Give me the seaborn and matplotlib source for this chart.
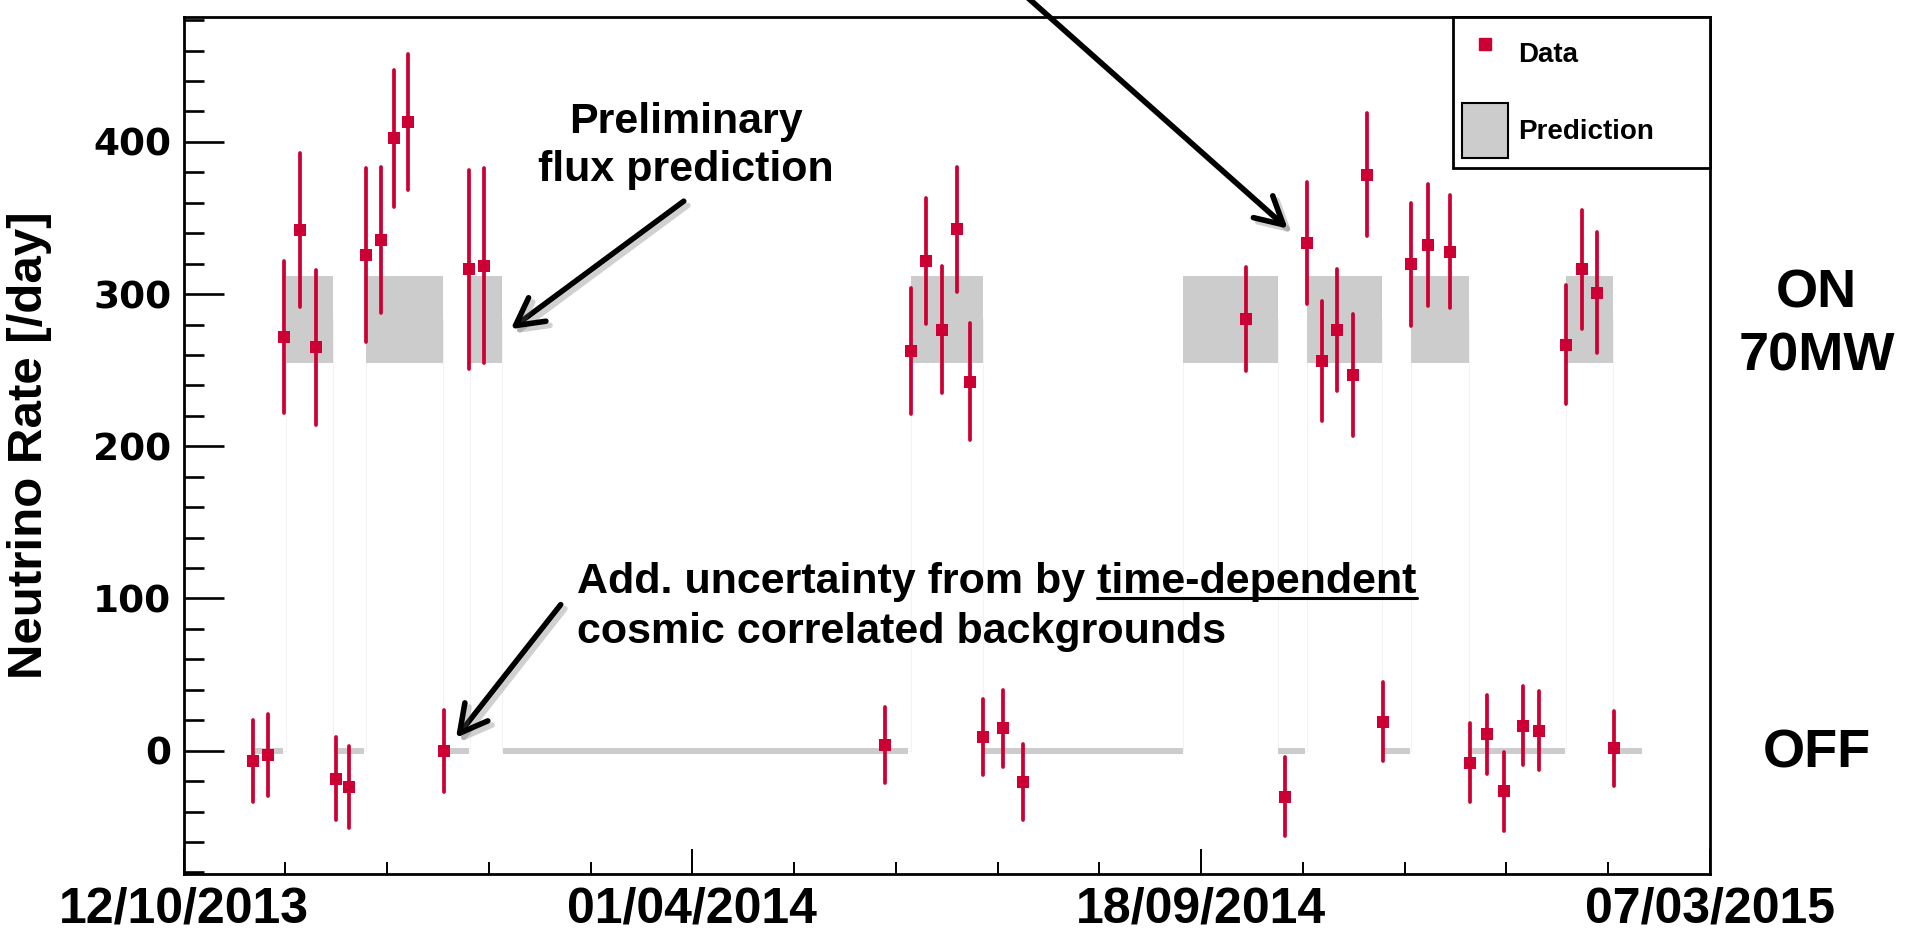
import matplotlib
matplotlib.use("Agg")
import matplotlib.pyplot as plt
import matplotlib.patheffects as pe
from matplotlib.lines import Line2D
from matplotlib.patches import Patch
from matplotlib.ticker import MultipleLocator
import numpy as np
import pandas as pd
import seaborn as sns

# Time axis: days elapsed since 12/10/2013
date_ticks = [0, 170, 340, 510]
date_labels = ["12/10/2013", "01/04/2014", "18/09/2014", "07/03/2015"]

# Reactor ON periods: measured neutrino rate and uncertainty [/day]
on_day = [33.4, 38.9, 44.1, 60.9, 66.0, 70.4, 75.0, 95.3, 100.4,
          242.9, 248.2, 253.5, 258.5, 262.8,
          355.1, 375.2, 380.3, 385.4, 390.6, 395.5,
          410.2, 415.8, 423.3, 461.9, 467.1, 472.3]
on_rate = [271.7, 342.3, 265.1, 325.5, 335.5, 402.4, 413.0, 316.3, 318.5,
           262.5, 321.8, 276.7, 342.5, 242.3,
           283.7, 333.3, 256.2, 276.5, 247.0, 378.4,
           319.6, 332.2, 327.9, 266.7, 316.3, 301.0]
on_err = [50.0, 50.5, 51.0, 57.0, 48.0, 45.0, 44.5, 65.5, 64.0,
          41.5, 41.5, 41.5, 41.0, 38.5,
          34.0, 40.0, 39.5, 40.0, 40.0, 40.5,
          40.5, 40.0, 37.0, 39.0, 39.0, 40.0]

# Reactor OFF periods
off_day = [23.3, 28.3, 50.8, 55.4, 87.1, 234.4, 267.0, 273.8, 280.6,
           368.1, 400.8, 429.7, 435.6, 441.2, 447.4, 453.0, 477.9]
off_rate = [-6.8, -2.8, -18.3, -23.6, -0.4, 3.7, 9.2, 14.6, -20.7,
            -30.1, 19.0, -7.9, 10.9, -26.6, 16.4, 13.1, 1.5]
off_err = [27.0, 27.0, 27.0, 27.0, 27.0, 25.0, 25.0, 25.0, 25.0,
           26.0, 26.0, 26.0, 26.0, 26.0, 26.0, 26.0, 24.5]

# Predicted rate for each running period
pred_start = [23.9, 34.1, 51.6, 60.9, 89.0, 95.7, 106.7, 243.2, 267.2,
              333.9, 365.5, 375.3, 400.8, 410.2, 429.7, 461.9, 477.9]
pred_end = [33.2, 49.8, 60.3, 86.6, 95.3, 106.3, 242.0, 267.2, 333.9,
            365.5, 374.6, 400.5, 409.9, 429.6, 461.7, 477.7, 487.2]
pred_state = ["OFF", "ON", "OFF", "ON", "OFF", "ON", "OFF", "ON", "OFF",
              "ON", "OFF", "ON", "OFF", "ON", "OFF", "ON", "OFF"]
pred_rate = {"ON": 283.4, "OFF": 0.0}
pred_unc = {"ON": 28.6, "OFF": 2.0}

RED = "#cc0033"
GREY = "#cccccc"

sns.set_theme(style="ticks")
plt.rcParams["font.family"] = ["Liberation Sans", "DejaVu Sans"]
plt.rcParams["font.weight"] = "bold"
plt.rcParams["axes.labelweight"] = "bold"
plt.rcParams["text.color"] = "black"
plt.rcParams["axes.labelcolor"] = "black"
plt.rcParams["xtick.color"] = "black"
plt.rcParams["ytick.color"] = "black"

fig = plt.figure(figsize=(19.11, 9.30), dpi=100, facecolor="white")
ax = fig.add_axes([0.0961, 0.0602, 0.7987, 0.9215])
ax.set_facecolor("white")

pred = pd.DataFrame({"start": pred_start, "end": pred_end, "state": pred_state})
pred["rate"] = pred["state"].map(pred_rate)
pred["unc"] = pred["state"].map(pred_unc)

# prediction bands
ax.bar(pred["start"], 2 * pred["unc"], width=pred["end"] - pred["start"],
       bottom=pred["rate"] - pred["unc"], align="edge", color=GREY,
       linewidth=0, zorder=1)

# faint histogram outline of the prediction
sx, sy = [], []
for s, e, r in zip(pred["start"], pred["end"], pred["rate"]):
    sx += [s, s, e, e]
    sy += [0, r, r, 0]
ax.plot(sx, sy, color="#f3f3f3", lw=0.8, zorder=0.5)

data = pd.concat([
    pd.DataFrame({"day": on_day, "rate": on_rate, "err": on_err, "period": "ON"}),
    pd.DataFrame({"day": off_day, "rate": off_rate, "err": off_err, "period": "OFF"}),
], ignore_index=True)

eb = ax.errorbar(data["day"], data["rate"], yerr=data["err"], fmt="none",
                 ecolor=RED, elinewidth=2.7, capsize=0, zorder=3)
for lc in eb[2]:
    lc.set_capstyle("round")
sns.scatterplot(data=data, x="day", y="rate", marker="s", s=70, color=RED,
                linewidth=0, zorder=4, ax=ax, legend=False)

ax.set_xlim(0, 510)
ax.set_ylim(-81, 482)
ax.set_xticks(date_ticks, labels=date_labels)
ax.xaxis.set_minor_locator(MultipleLocator(34))
ax.yaxis.set_major_locator(MultipleLocator(100))
ax.yaxis.set_minor_locator(MultipleLocator(20))

ax.tick_params(axis="y", which="major", direction="in", length=29, width=1.9,
               pad=9, labelsize=27, colors="black", right=False)
ax.tick_params(axis="y", which="minor", direction="in", length=14.5, width=1.9,
               right=False)
ax.tick_params(axis="x", which="major", direction="in", length=18, width=1.4,
               pad=9, labelsize=36, colors="black", top=False)
ax.tick_params(axis="x", which="minor", direction="in", length=8.6, width=1.4,
               top=False)
for lab in ax.get_xticklabels():
    lab.set_fontweight("bold")
for lab in ax.get_yticklabels():
    lab.set_fontweight("bold")
    lab.set_family(["DejaVu Sans"])

for side in ["left", "right", "top", "bottom"]:
    ax.spines[side].set_visible(True)
    ax.spines[side].set_color("black")
    ax.spines[side].set_linewidth(2)

ax.set_xlabel("")
ax.set_ylabel("Neutrino Rate [/day]", fontsize=35.5, fontweight="bold", va="center")
ax.yaxis.set_label_coords(-0.101, 0.5)

# legend
handles = [
    Line2D([], [], marker="s", color=RED, linestyle="none", markersize=8.6, label="Data"),
    Patch(facecolor=GREY, edgecolor="black", linewidth=1.5, label="Prediction"),
]
leg = ax.legend(handles=handles, loc="upper right",
                bbox_to_anchor=(0.8316, 0.0, 0.1684, 1.0), mode="expand",
                borderaxespad=0, fontsize=20, handlelength=1.65, handleheight=2.67,
                handletextpad=0.36, borderpad=0.33, labelspacing=0.8,
                fancybox=False, framealpha=1, edgecolor="black")
leg.get_frame().set_linewidth(2)
leg.set_zorder(10)

# annotations
shadow = [pe.SimpleLineShadow(offset=(3, -3), shadow_color="0.4", alpha=0.3), pe.Normal()]
arrow_kw = dict(arrowstyle="->,head_length=0.65,head_width=0.35", color="black",
                lw=4, shrinkA=0, shrinkB=0, mutation_scale=30)

a1 = ax.annotate("", xy=(109.3, 277.0), xytext=(167.1, 361.0), arrowprops=arrow_kw)
a2 = ax.annotate("", xy=(91.0, 8.5), xytext=(126.0, 96.0), arrowprops=arrow_kw)
a3 = ax.annotate("", xy=(368.9, 343.0), xytext=(273.3, 510.0), arrowprops=arrow_kw,
                 annotation_clip=False)
for a in (a1, a2, a3):
    a.arrow_patch.set_path_effects(shadow)
    a.arrow_patch.set_clip_on(False)

ax.text(167.7, 406, "Preliminary", ha="center", va="baseline", fontsize=31, fontweight="bold")
ax.text(167.7, 374, "flux prediction", ha="center", va="baseline", fontsize=31, fontweight="bold")

line1 = "Add. uncertainty from by time-dependent"
underlined = "time-dependent"
t1 = ax.text(131.5, 103.5, line1, ha="left", va="baseline", fontsize=31, fontweight="bold")
ax.text(131.5, 70.5, "cosmic correlated backgrounds", ha="left", va="baseline",
        fontsize=31, fontweight="bold")

ax.text(545.7, 291, "ON", ha="center", va="baseline", fontsize=39, fontweight="bold", clip_on=False)
ax.text(545.7, 250, "70MW", ha="center", va="baseline", fontsize=39, fontweight="bold", clip_on=False)
ax.text(545.7, -11, "OFF", ha="center", va="baseline", fontsize=39, fontweight="bold", clip_on=False)

# underline the last words of the first annotation line
fig.canvas.draw()
renderer = fig.canvas.get_renderer()
bb = t1.get_window_extent(renderer)
w_ul, _, _ = renderer.get_text_width_height_descent(underlined, t1.get_fontproperties(), ismath=False)
base_y = ax.transData.transform((131.5, 103.5))[1] - 5
inv = fig.transFigure.inverted()
p0 = inv.transform((bb.x1 - w_ul, base_y))
p1 = inv.transform((bb.x1, base_y))
fig.add_artist(Line2D([p0[0], p1[0]], [p0[1], p1[1]], transform=fig.transFigure,
                      color="black", lw=2.2))

fig.savefig("out.png", dpi=100, facecolor="white")
